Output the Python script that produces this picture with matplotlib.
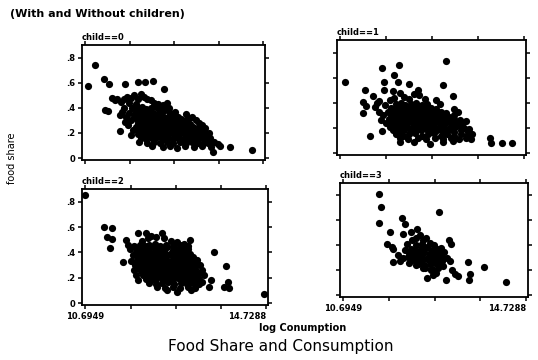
import numpy as np
import matplotlib
matplotlib.use("Agg")
import matplotlib.pyplot as plt

# food share vs log consumption, one panel per number of children
panel_titles = ["child==0", "child==1", "child==2", "child==3"]
x_min, x_max = 10.6949, 14.7288
y_ticks = [0, 0.2, 0.4, 0.6, 0.8]
y_ticklabels = ["0", ".2", ".4", ".6", ".8"]

child0 = [
    (10.92, 0.738), (10.76, 0.573), (11.13, 0.628), (11.24, 0.587), (11.60, 0.59),
    (11.89, 0.603), (12.05, 0.603), (12.24, 0.61), (12.47, 0.547), (11.15, 0.38),
    (11.22, 0.375), (11.49, 0.343), (11.49, 0.216), (13.60, 0.051), (13.98, 0.089),
    (14.47, 0.064),
    (11.30, 0.48), (11.36, 0.46), (11.42, 0.47), (11.50, 0.45), (11.57, 0.47),
    (11.63, 0.49), (11.72, 0.48), (11.80, 0.50), (11.88, 0.47), (11.95, 0.51),
    (12.02, 0.49), (12.10, 0.47), (12.18, 0.46), (12.25, 0.44), (12.35, 0.43),
    (12.45, 0.42), (11.68, 0.44), (11.85, 0.43),
    (11.52, 0.37), (11.58, 0.40), (11.62, 0.33), (11.60, 0.29), (11.68, 0.36),
    (11.66, 0.26), (11.72, 0.30), (11.75, 0.40), (11.78, 0.22), (11.80, 0.34),
    (11.74, 0.18),
    (11.88, 0.40), (11.98, 0.41), (12.08, 0.39), (12.18, 0.40), (12.30, 0.41), (12.42, 0.39),
    (11.84, 0.37), (11.93, 0.36), (12.03, 0.37), (12.14, 0.38), (12.24, 0.36), (12.36, 0.37),
    (12.50, 0.38), (12.62, 0.36),
    (11.90, 0.34), (12.00, 0.33), (12.10, 0.34), (12.20, 0.35), (12.31, 0.33), (12.44, 0.34),
    (12.56, 0.33), (12.68, 0.34), (12.80, 0.33),
    (11.86, 0.31), (11.96, 0.30), (12.06, 0.31), (12.16, 0.32), (12.27, 0.30), (12.38, 0.31),
    (12.50, 0.30), (12.62, 0.31), (12.74, 0.30), (12.86, 0.31), (12.98, 0.30),
    (11.90, 0.28), (12.01, 0.27), (12.12, 0.28), (12.22, 0.29), (12.33, 0.27), (12.45, 0.28),
    (12.57, 0.27), (12.70, 0.28), (12.82, 0.27), (12.95, 0.28), (13.08, 0.27),
    (11.85, 0.25), (11.96, 0.24), (12.07, 0.25), (12.18, 0.26), (12.29, 0.24), (12.40, 0.25),
    (12.52, 0.24), (12.64, 0.25), (12.76, 0.24), (12.88, 0.25), (13.00, 0.24), (13.13, 0.25),
    (13.25, 0.24),
    (11.92, 0.22), (12.03, 0.21), (12.14, 0.22), (12.25, 0.23), (12.36, 0.21), (12.48, 0.22),
    (12.60, 0.21), (12.72, 0.22), (12.84, 0.21), (12.96, 0.22), (13.08, 0.21), (13.20, 0.22),
    (13.32, 0.21),
    (11.88, 0.19), (12.00, 0.18), (12.11, 0.19), (12.22, 0.20), (12.34, 0.18), (12.46, 0.19),
    (12.58, 0.18), (12.70, 0.19), (12.83, 0.18), (12.95, 0.19), (13.07, 0.18), (13.18, 0.19),
    (13.30, 0.18), (13.42, 0.19),
    (11.95, 0.16), (12.08, 0.15), (12.20, 0.16), (12.32, 0.17), (12.45, 0.15), (12.57, 0.16),
    (12.69, 0.15), (12.80, 0.16), (12.93, 0.15), (13.05, 0.16), (13.16, 0.15), (13.28, 0.16),
    (13.40, 0.15), (13.52, 0.16),
    (11.92, 0.13), (12.10, 0.12), (12.26, 0.13), (12.40, 0.12), (12.55, 0.13), (12.68, 0.12),
    (12.85, 0.13), (12.98, 0.12), (13.12, 0.13), (13.26, 0.12), (13.38, 0.13), (13.48, 0.12),
    (13.62, 0.13), (13.70, 0.11),
    (12.20, 0.10), (12.45, 0.09), (12.62, 0.10), (12.78, 0.08), (12.96, 0.10), (13.15, 0.09),
    (13.34, 0.10), (13.55, 0.09), (13.74, 0.10),
    (12.98, 0.35), (13.05, 0.32), (13.12, 0.33), (13.20, 0.30), (13.28, 0.28), (13.35, 0.26),
    (13.42, 0.24), (13.50, 0.20), (12.60, 0.40), (12.72, 0.37), (12.55, 0.44),
]

child1 = [
    (10.80, 0.562), (11.98, 0.70), (13.02, 0.736), (11.60, 0.675), (11.87, 0.622),
    (11.65, 0.562), (11.95, 0.562), (12.20, 0.549), (12.40, 0.50), (11.23, 0.50),
    (11.40, 0.456), (11.85, 0.496), (12.00, 0.475), (12.95, 0.54), (13.17, 0.456),
    (11.19, 0.403), (11.26, 0.376), (11.19, 0.323), (11.55, 0.416), (11.34, 0.136),
    (11.60, 0.176), (13.98, 0.123), (14.00, 0.083), (14.24, 0.077), (14.46, 0.077),
    (11.65, 0.50), (12.10, 0.45), (12.20, 0.43), (12.42, 0.46), (12.55, 0.43),
    (12.80, 0.42), (12.88, 0.39), (13.20, 0.35), (13.28, 0.33), (13.46, 0.256),
    (13.30, 0.22), (11.50, 0.40), (11.45, 0.37), (11.55, 0.33), (11.62, 0.30),
    (11.58, 0.26), (11.70, 0.24), (11.68, 0.38), (11.78, 0.42), (11.88, 0.44),
    (12.32, 0.47),
    (11.92, 0.39), (12.02, 0.40), (12.12, 0.38), (12.24, 0.39), (12.36, 0.40), (12.48, 0.38),
    (12.60, 0.39),
    (11.80, 0.36), (11.90, 0.35), (12.00, 0.36), (12.10, 0.37), (12.21, 0.35), (12.32, 0.36),
    (12.44, 0.37), (12.56, 0.35), (12.68, 0.36), (12.80, 0.35),
    (11.75, 0.33), (11.86, 0.32), (11.97, 0.33), (12.08, 0.34), (12.19, 0.32), (12.30, 0.33),
    (12.42, 0.34), (12.54, 0.32), (12.66, 0.33), (12.78, 0.32), (12.90, 0.33), (13.02, 0.32),
    (11.80, 0.30), (11.91, 0.29), (12.02, 0.30), (12.13, 0.31), (12.24, 0.29), (12.36, 0.30),
    (12.48, 0.31), (12.60, 0.29), (12.72, 0.30), (12.84, 0.29), (12.96, 0.30), (13.08, 0.29),
    (13.18, 0.30),
    (11.76, 0.27), (11.88, 0.26), (11.99, 0.27), (12.10, 0.28), (12.22, 0.26), (12.34, 0.27),
    (12.46, 0.28), (12.58, 0.26), (12.70, 0.27), (12.82, 0.26), (12.94, 0.27), (13.06, 0.26),
    (13.20, 0.27), (13.32, 0.26),
    (11.82, 0.24), (11.94, 0.23), (12.05, 0.24), (12.16, 0.25), (12.28, 0.23), (12.40, 0.24),
    (12.52, 0.25), (12.64, 0.23), (12.76, 0.24), (12.88, 0.23), (13.00, 0.24), (13.12, 0.23),
    (13.24, 0.24), (13.36, 0.23),
    (11.78, 0.21), (11.90, 0.20), (12.02, 0.21), (12.14, 0.22), (12.26, 0.20), (12.38, 0.21),
    (12.50, 0.22), (12.62, 0.20), (12.74, 0.21), (12.86, 0.20), (12.98, 0.21), (13.10, 0.20),
    (13.22, 0.21), (13.40, 0.20), (13.52, 0.19),
    (11.85, 0.18), (11.98, 0.17), (12.10, 0.18), (12.22, 0.19), (12.34, 0.17), (12.46, 0.18),
    (12.58, 0.19), (12.70, 0.17), (12.82, 0.18), (12.94, 0.17), (13.06, 0.18), (13.20, 0.17),
    (13.34, 0.18), (13.50, 0.17),
    (11.92, 0.15), (12.06, 0.14), (12.20, 0.15), (12.34, 0.16), (12.48, 0.14), (12.62, 0.15),
    (12.76, 0.16), (12.90, 0.14), (13.04, 0.15), (13.18, 0.14), (13.34, 0.15), (13.48, 0.14),
    (13.58, 0.15),
    (12.00, 0.12), (12.18, 0.11), (12.40, 0.12), (12.58, 0.11), (12.78, 0.12), (12.95, 0.11),
    (13.12, 0.12), (13.30, 0.11), (13.45, 0.12), (13.56, 0.11),
    (12.00, 0.09), (12.30, 0.09), (12.66, 0.07), (12.95, 0.09), (13.17, 0.10),
]

child2 = [
    (10.69, 0.855), (11.11, 0.60), (11.28, 0.595), (11.18, 0.519), (11.30, 0.503),
    (11.24, 0.431), (11.53, 0.325), (11.60, 0.50), (11.87, 0.556), (12.05, 0.556),
    (12.40, 0.55), (13.04, 0.50), (13.57, 0.405), (13.83, 0.293), (13.87, 0.167),
    (13.79, 0.127), (13.90, 0.12), (14.69, 0.074), (13.49, 0.18), (13.46, 0.13),
    (11.77, 0.26),
    (11.65, 0.46), (11.70, 0.43), (11.78, 0.45), (11.75, 0.38), (11.72, 0.33),
    (11.80, 0.30), (11.82, 0.22), (11.88, 0.18), (12.15, 0.53), (12.28, 0.52),
    (12.45, 0.51), (12.60, 0.49), (12.75, 0.48), (12.90, 0.47), (12.98, 0.45),
    (13.10, 0.36), (13.18, 0.34), (13.25, 0.30), (13.30, 0.26), (13.35, 0.22),
    (13.30, 0.17), (12.10, 0.51), (11.95, 0.49),
    (11.92, 0.46), (12.02, 0.45), (12.12, 0.46), (12.24, 0.47), (12.36, 0.45), (12.50, 0.46),
    (12.64, 0.45), (12.80, 0.46), (12.92, 0.45),
    (11.86, 0.43), (11.96, 0.42), (12.06, 0.43), (12.17, 0.44), (12.28, 0.42), (12.40, 0.43),
    (12.52, 0.44), (12.64, 0.42), (12.76, 0.43), (12.88, 0.42), (12.98, 0.43),
    (11.82, 0.40), (11.92, 0.39), (12.02, 0.40), (12.12, 0.41), (12.23, 0.39), (12.34, 0.40),
    (12.46, 0.41), (12.58, 0.39), (12.70, 0.40), (12.82, 0.39), (12.94, 0.40), (13.04, 0.39),
    (11.86, 0.37), (11.96, 0.36), (12.07, 0.37), (12.18, 0.38), (12.29, 0.36), (12.40, 0.37),
    (12.52, 0.38), (12.64, 0.36), (12.76, 0.37), (12.88, 0.36), (13.00, 0.37),
    (11.84, 0.34), (11.94, 0.33), (12.04, 0.34), (12.15, 0.35), (12.26, 0.33), (12.38, 0.34),
    (12.50, 0.35), (12.62, 0.33), (12.74, 0.34), (12.86, 0.33), (12.98, 0.34), (13.08, 0.33),
    (11.90, 0.31), (12.00, 0.30), (12.11, 0.31), (12.22, 0.32), (12.34, 0.30), (12.46, 0.31),
    (12.58, 0.32), (12.70, 0.30), (12.82, 0.31), (12.94, 0.30), (13.06, 0.31), (13.16, 0.30),
    (11.88, 0.28), (11.98, 0.27), (12.09, 0.28), (12.20, 0.29), (12.32, 0.27), (12.44, 0.28),
    (12.56, 0.29), (12.68, 0.27), (12.80, 0.28), (12.92, 0.27), (13.04, 0.28), (13.14, 0.27),
    (11.94, 0.25), (12.05, 0.24), (12.16, 0.25), (12.28, 0.26), (12.40, 0.24), (12.52, 0.25),
    (12.64, 0.26), (12.76, 0.24), (12.88, 0.25), (13.00, 0.24), (13.12, 0.25), (13.22, 0.24),
    (11.98, 0.22), (12.10, 0.21), (12.22, 0.22), (12.34, 0.23), (12.46, 0.21), (12.58, 0.22),
    (12.70, 0.23), (12.82, 0.21), (12.94, 0.22), (13.06, 0.21), (13.18, 0.22),
    (12.04, 0.19), (12.16, 0.18), (12.28, 0.19), (12.40, 0.20), (12.52, 0.18), (12.64, 0.19),
    (12.76, 0.20), (12.88, 0.18), (13.00, 0.19), (13.12, 0.18), (13.24, 0.19),
    (12.12, 0.16), (12.26, 0.15), (12.40, 0.16), (12.54, 0.17), (12.68, 0.15), (12.82, 0.16),
    (12.96, 0.15), (13.10, 0.16), (13.22, 0.15),
    (12.30, 0.13), (12.48, 0.12), (12.64, 0.13), (12.80, 0.12), (12.98, 0.13), (13.15, 0.12),
    (12.52, 0.10), (12.74, 0.09), (13.05, 0.10),
]

child3 = [
    (11.49, 0.813), (11.52, 0.708), (11.47, 0.578), (12.81, 0.67), (11.99, 0.617),
    (12.06, 0.57), (11.72, 0.51), (12.00, 0.49), (12.18, 0.505), (12.33, 0.53),
    (11.65, 0.408), (11.80, 0.369), (11.76, 0.385), (11.78, 0.265), (11.91, 0.32),
    (13.03, 0.44), (13.07, 0.41), (13.44, 0.264), (13.80, 0.225), (14.29, 0.107),
    (13.50, 0.173), (13.47, 0.12), (12.96, 0.12), (12.55, 0.134), (13.10, 0.20),
    (13.16, 0.17), (13.22, 0.15),
    (11.95, 0.27), (12.02, 0.30), (12.05, 0.36), (12.10, 0.41), (12.20, 0.44),
    (12.30, 0.46), (12.38, 0.48), (12.45, 0.44), (12.52, 0.46), (12.60, 0.42),
    (12.70, 0.40), (12.85, 0.38), (12.92, 0.35), (12.98, 0.30), (13.05, 0.27),
    (12.90, 0.23), (12.75, 0.18), (12.62, 0.20), (12.45, 0.22), (12.30, 0.24),
    (12.15, 0.26), (12.68, 0.16),
    (12.30, 0.40), (12.42, 0.41), (12.55, 0.39),
    (12.18, 0.37), (12.28, 0.36), (12.40, 0.37), (12.52, 0.38), (12.64, 0.36), (12.76, 0.37),
    (12.14, 0.34), (12.24, 0.33), (12.35, 0.34), (12.46, 0.35), (12.58, 0.33), (12.70, 0.34),
    (12.82, 0.33),
    (12.12, 0.31), (12.22, 0.30), (12.33, 0.31), (12.44, 0.32), (12.56, 0.30), (12.68, 0.31),
    (12.80, 0.32), (12.90, 0.30),
    (12.20, 0.28), (12.30, 0.27), (12.42, 0.28), (12.54, 0.29), (12.66, 0.27), (12.78, 0.28),
    (12.88, 0.27),
    (12.35, 0.25), (12.48, 0.24), (12.60, 0.25), (12.72, 0.26), (12.84, 0.24),
    (12.50, 0.22), (12.64, 0.21), (12.78, 0.22),
]

W, H = 538, 360
fig = plt.figure(figsize=(W / 100, H / 100), dpi=100)

# axes boxes in pixels: left, top, right, bottom
boxes = [(82, 45, 265, 160), (337, 40, 526, 155), (82, 189, 268, 305), (340, 183, 528, 297)]
data = [child0, child1, child2, child3]
x_ticks = np.linspace(x_min, x_max, 5)

for i, (box, pts, title) in enumerate(zip(boxes, data, panel_titles)):
    l, t, r, b = box
    ax = fig.add_axes([l / W, 1 - b / H, (r - l) / W, (b - t) / H])
    xs = [p[0] for p in pts]
    ys = [p[1] for p in pts]
    ax.scatter(xs, ys, s=27, c="black", linewidths=0)
    ax.set_xlim(10.62, 14.77)
    ax.set_ylim(-0.015, 0.9)
    for sp in ax.spines.values():
        sp.set_linewidth(1.3)
    ax.set_xticks(x_ticks)
    ax.set_yticks(y_ticks)
    ax.tick_params(direction="out", length=3, width=1.1, top=True, right=True,
                   labelsize=6, pad=2)
    if i >= 2:
        labs = ax.set_xticklabels(["10.6949", "", "", "", "14.7288"], fontweight="bold")
        labs[-1].set_horizontalalignment("right")
    else:
        ax.set_xticklabels([])
    if i % 2 == 0:
        ax.set_yticklabels(y_ticklabels, fontweight="bold")
    else:
        ax.set_yticklabels([])
    ax.text(0.0, 1.03, title, transform=ax.transAxes, fontsize=6, fontweight="bold",
            ha="left", va="bottom")

fig.text(10 / W, 1 - 14 / H, "(With and Without children)", fontsize=8, fontweight="bold",
         ha="left", va="center")
fig.text(12 / W, 1 - 158 / H, "food share", rotation=90, fontsize=7,
         ha="center", va="center")
fig.text(303 / W, 1 - 328 / H, "log Conumption", fontsize=7, fontweight="bold",
         ha="center", va="center")
fig.text(281 / W, 1 - 346 / H, "Food Share and Consumption", fontsize=11,
         ha="center", va="center")

fig.savefig("out.png", dpi=100)
